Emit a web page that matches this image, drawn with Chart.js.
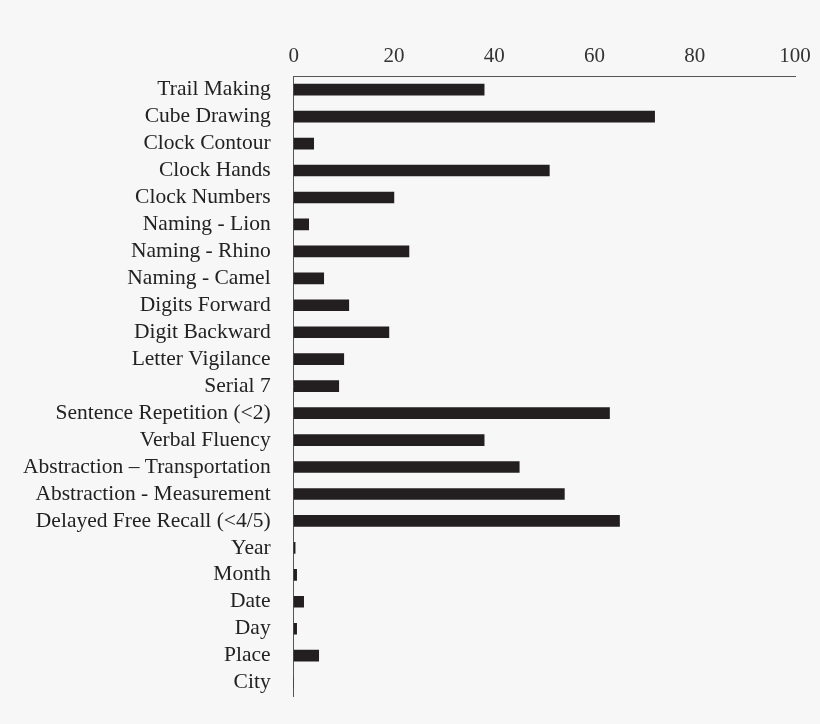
<!DOCTYPE html>
<html><head><meta charset="utf-8">
<script src="https://cdn.jsdelivr.net/npm/chart.js@4"></script>
<style>html,body{margin:0;background:#f7f7f7}#w{width:820px;height:724px}</style>
</head><body><div id="w"><canvas id="c"></canvas></div>
<script>
const categories=["Trail Making","Cube Drawing","Clock Contour","Clock Hands","Clock Numbers","Naming - Lion","Naming - Rhino","Naming - Camel","Digits Forward","Digit Backward","Letter Vigilance","Serial 7","Sentence Repetition (<2)","Verbal Fluency","Abstraction \u2013 Transportation","Abstraction - Measurement","Delayed Free Recall (<4/5)","Year","Month","Date","Day","Place","City"];
const values=[38,72,4,51,20,3,23,6,11,19,10,9,63,38,45,54,65,0.3,0.6,2,0.6,5,0];
const ticks=[0,20,40,60,80,100];
new Chart(document.getElementById('c'),{type:'bar',
data:{labels:categories,datasets:[{data:values,backgroundColor:'#231f20',barThickness:11}]},
options:{indexAxis:'y',responsive:true,maintainAspectRatio:false,animation:false,
layout:{padding:{top:42,right:25,bottom:2,left:8}},
plugins:{legend:{display:false},tooltip:{enabled:false}},
scales:{x:{position:'top',min:0,max:100,afterBuildTicks:a=>{a.ticks=ticks.map(v=>({value:v}))},
grid:{display:false,drawTicks:true,tickLength:5,color:'#555'},border:{color:'#555'},
ticks:{color:'#333',font:{family:'Liberation Serif',size:21},padding:2}},
y:{grid:{display:false},border:{color:'#555'},ticks:{color:'#222',font:{family:'Liberation Serif',size:21.5},padding:15,autoSkip:false}}}}});
</script></body></html>
